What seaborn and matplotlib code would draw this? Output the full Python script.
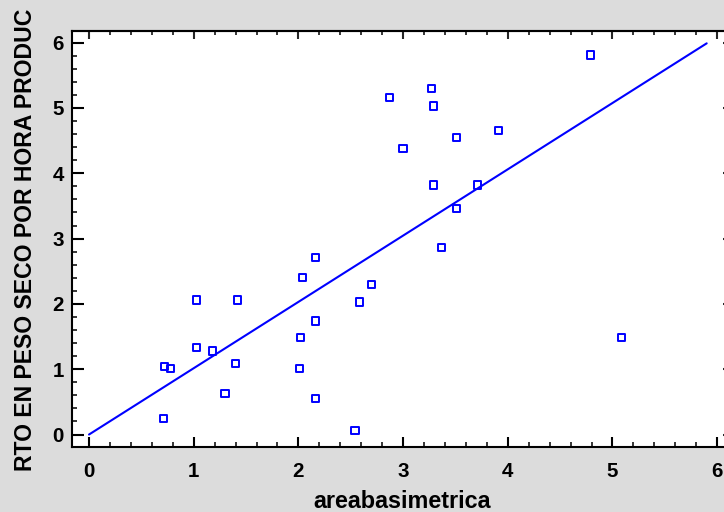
import matplotlib
matplotlib.use('Agg')
import matplotlib.pyplot as plt
import seaborn as sns
import pandas as pd
from matplotlib.ticker import MultipleLocator, NullLocator

area = [0.71, 0.72, 0.78, 1.03, 1.03, 1.18, 1.30, 1.40, 1.42, 2.01,
        2.02, 2.04, 2.16, 2.16, 2.16, 2.54, 2.58, 2.70, 2.87, 3.00,
        3.27, 3.29, 3.29, 3.37, 3.51, 3.51, 3.71, 3.91, 4.79, 5.09]
rto = [0.25, 1.04, 1.01, 2.06, 1.33, 1.28, 0.63, 1.09, 2.06, 1.01,
       1.49, 2.41, 2.71, 1.74, 0.55, 0.06, 2.03, 2.30, 5.16, 4.38,
       5.30, 5.03, 3.82, 2.86, 4.55, 3.46, 3.82, 4.65, 5.81, 1.49]

# Fitted line
line_x = [0.0, 5.90]
line_y = [0.0, 5.99]

x_ticks = [0, 1, 2, 3, 4, 5, 6]
y_ticks = [0, 1, 2, 3, 4, 5, 6]

sns.set_style('white')
plt.rcParams['font.family'] = ['Liberation Sans', 'DejaVu Sans']
plt.rcParams['font.weight'] = 'bold'

W, H = 724, 512
fig = plt.figure(figsize=(W / 100, H / 100), dpi=100, facecolor='#dcdcdc')
ax = fig.add_axes([72 / W, 1 - 447 / H, (727 - 72) / W, (447 - 31) / H])
ax.set_facecolor('white')

blue = '#0000ff'
df = pd.DataFrame({'areabasimetrica': area, 'rto': rto})
sns.lineplot(x=line_x, y=line_y, ax=ax, color=blue, linewidth=1.5)
sns.scatterplot(data=df, x='areabasimetrica', y='rto', ax=ax, marker='s', s=27)
coll = ax.collections[-1]
coll.set_facecolor('none')
coll.set_edgecolor(blue)
coll.set_linewidth(1.4)

ax.set_xlim(-0.1624, 6.094)
ax.set_ylim(-0.191, 6.179)

ax.set_xticks(x_ticks)
ax.set_yticks(y_ticks)
ax.xaxis.set_minor_locator(MultipleLocator(0.2))
ax.yaxis.set_minor_locator(MultipleLocator(0.2))
ax.set_xticklabels([str(t) for t in x_ticks])
ax.set_yticklabels([str(t) for t in y_ticks])

for side in ['left', 'bottom', 'top', 'right']:
    ax.spines[side].set_color('black')
    ax.spines[side].set_linewidth(1.5)

ax.tick_params(axis='x', which='major', direction='in', length=7.2, width=1.5,
               bottom=True, top=False, labelsize=14.8, pad=10.5, colors='black')
ax.tick_params(axis='x', which='minor', direction='in', length=3.6, width=1.3,
               bottom=True, top=False)
ax.tick_params(axis='y', which='major', direction='in', length=8.6, width=1.5,
               left=True, right=False, labelsize=14.8, pad=5.8, colors='black')
ax.tick_params(axis='y', which='minor', direction='in', length=3.6, width=1.3,
               left=True, right=False)

# Top ticks
secx = ax.secondary_xaxis('top')
secx.set_xticks(x_ticks)
secx.xaxis.set_minor_locator(MultipleLocator(0.2))
secx.tick_params(axis='x', which='major', direction='in', length=5.8, width=1.5,
                 labeltop=False)
secx.tick_params(axis='x', which='minor', direction='in', length=2.6, width=1.3)
secx.spines['top'].set_linewidth(1.5)

# Right ticks
secy = ax.secondary_yaxis('right')
secy.set_yticks(y_ticks)
secy.yaxis.set_minor_locator(NullLocator())
secy.tick_params(axis='y', which='major', direction='in', length=3.0, width=1.5,
                 labelright=False)

ax.set_xlabel('areabasimetrica', fontsize=16.8, fontweight='bold', color='black')
ax.xaxis.set_label_coords(402.5 / W, 4 / H, transform=fig.transFigure)
ax.xaxis.label.set_verticalalignment('baseline')
ax.xaxis.label.set_horizontalalignment('center')

ax.set_ylabel('RTO EN PESO SECO POR HORA PRODUC', fontsize=16.6,
              fontweight='bold', color='black')
ax.yaxis.set_label_coords(14.0 / W, 41 / H, transform=fig.transFigure)
ax.yaxis.label.set_rotation_mode('default')
ax.yaxis.label.set_horizontalalignment('left')
ax.yaxis.label.set_verticalalignment('bottom')

fig.savefig('out.png', dpi=100, facecolor=fig.get_facecolor())
